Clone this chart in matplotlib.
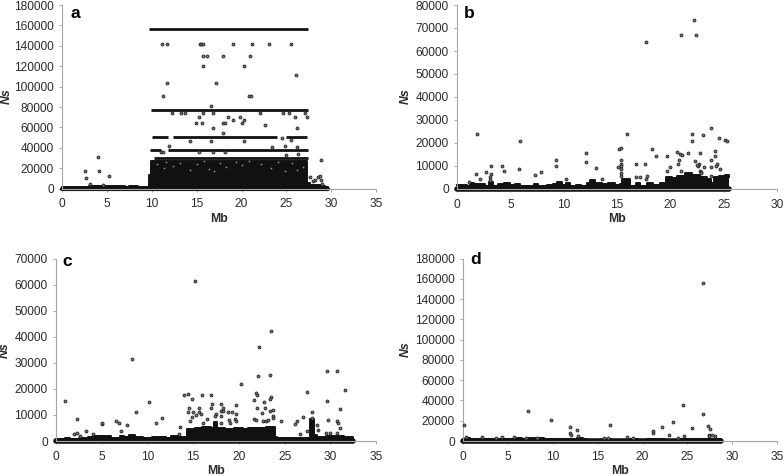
import matplotlib
matplotlib.use("Agg")
import matplotlib.pyplot as plt

plt.rcParams['font.family'] = ['Liberation Sans', 'DejaVu Sans']

# ---------- panel a ----------
a_env_x = [0, 1, 2, 2.5, 3, 3.5, 4, 4.5, 5, 5.5, 6, 7, 7.4, 8, 8.5, 9.7, 9.9, 27.3, 27.6, 28, 28.5, 29, 29.3, 29.6]
a_env_y = [1300, 1200, 1500, 1800, 2600, 2200, 2600, 3000, 2400, 3000, 2200, 2000, 3000, 2900, 2000, 13000, 27500, 6000, 4000, 4000, 3500, 3000, 2000, 800]
a_band_y = [156500, 77500, 51000, 51000, 51000, 38000, 38000, 30000]
a_band_start = [9.7, 9.9, 10.0, 12.3, 25.0, 9.8, 11.8, 10.2]
a_band_end = [27.4, 27.4, 11.8, 24.0, 27.3, 11.0, 27.4, 27.4]
a_x = [2.5, 2.6, 4.0, 4.1, 5.2, 3.1, 4.5, 11.1, 11.7, 15.4, 15.5, 15.7, 19.0, 21.2, 23.1, 25.5,
       15.7, 16.2, 17.9, 20.9, 15.7, 20.3, 26.1, 11.7, 17.2, 11.2, 20.8, 21.0, 16.6,
       12.2, 13.2, 13.7, 15.7, 16.8, 22.1, 24.6, 25.3, 27.1, 15.2, 18.5, 19.8, 26.0, 27.3, 19.0, 20.3,
       14.9, 15.6, 17.9, 18.1, 20.0, 22.6, 16.8, 26.2, 17.9, 14.2, 16.6, 20.3, 11.9, 24.8, 23.4,
       11.0, 11.2, 15.3, 16.8, 18.2, 28.9, 27.6, 28.0, 28.2, 28.5, 28.7, 28.9, 29.0, 26.2, 24.5, 25.0, 25.5, 26.3]
a_y = [17500, 10500, 31500, 17500, 12800, 4500, 4000, 141500, 141500, 141500, 141500, 141500, 141500, 141500, 141500, 141500,
       130000, 130000, 130000, 130000, 120000, 120000, 111000, 104000, 104000, 91000, 91000, 91000, 81000,
       74000, 74000, 74000, 74000, 74000, 74000, 74000, 74000, 74000, 70000, 70000, 70000, 70000, 70000, 67000, 67000,
       64500, 64500, 64500, 64500, 64500, 62000, 59500, 59500, 55000, 46500, 46500, 46500, 42000, 42000, 41000,
       36000, 36000, 36000, 36000, 36000, 28000, 11000, 8000, 9000, 11000, 12000, 8500, 5000, 41000, 50000, 33000, 48000, 34000]
a_hole_x = [10.6, 11.3, 11.6, 12.4, 13.1, 14.3, 15.0, 15.8, 16.4, 16.9, 17.6, 18.3, 19.4, 20.1, 20.8, 22.2, 23.3, 24.1, 24.8, 25.6, 26.2, 26.9]
a_hole_y = [24000, 20000, 26000, 22000, 25000, 18000, 24000, 27000, 19000, 17000, 25000, 21000, 26000, 23000, 27000, 24000, 20000, 26000, 17000, 25000, 18000, 21000]

# ---------- panel b ----------
b_env_x = [0, 0.9, 1.2, 1.6, 2.2, 2.6, 3.0, 3.4, 3.8, 4.4, 5.0, 5.4, 5.9, 6.8, 7.2, 7.6, 8.4, 9.0, 9.4, 9.8, 10.2, 10.6, 11.2, 11.6, 12.2, 12.5, 12.9, 13.6,
           14.2, 14.8, 15.3, 15.5, 16.2, 16.8, 17.2, 17.8, 18.4, 19.0, 19.6, 20.2, 20.6, 21.0, 21.4, 22.0, 22.8, 23.4, 23.8, 24.1, 24.6, 25.1, 25.5]
b_env_y = [1900, 1400, 2800, 2300, 2000, 1500, 3000, 1500, 2000, 2500, 1600, 2300, 1300, 1500, 2300, 1500, 1800, 2200, 3000, 1800, 2500, 1500, 1900, 1400, 2800, 4000, 2500, 2000,
           2500, 1600, 2000, 4500, 1400, 2500, 1500, 2500, 1800, 2400, 5200, 4800, 5800, 5600, 6800, 6000, 5300, 4300, 2800, 5000, 5800, 6300, 5000]
b_x = [17.7, 21.0, 22.2, 22.4, 1.9, 5.9, 15.9, 15.2, 15.4, 12.1, 12.1, 9.3, 9.3, 3.2, 4.2, 4.4, 1.8, 2.7, 3.2, 3.1, 5.8, 7.3, 7.9, 13.0,
       15.4, 15.4, 15.4, 15.4, 15.4, 15.4, 15.1, 16.8, 17.6, 16.8, 17.2, 17.8, 17.7, 18.3, 18.7, 19.7, 20.6, 20.9, 21.1, 21.7, 22.0, 22.0,
       23.1, 23.8, 24.6, 25.1, 25.3, 24.2, 24.2, 22.8, 22.3, 20.8, 20.7, 20.0, 19.7, 21.0, 22.7, 22.6, 23.2, 22.8, 22.9, 23.8, 23.8, 24.4, 24.3, 24.7,
       13.6, 10.2, 1.1, 2.2, 3.1, 22.5, 22.9, 23.8]
b_y = [64000, 67000, 73500, 67000, 24000, 20700, 24000, 17500, 18000, 15700, 11800, 12700, 10000, 10000, 10000, 7700, 6700, 7500, 6500, 5200, 8800, 6000, 7200, 9200,
       12500, 11000, 10000, 8500, 7000, 5500, 9500, 11000, 11000, 5000, 5200, 5800, 4200, 17500, 14300, 14300, 16000, 15000, 14700, 15700, 24000, 20700,
       23500, 26500, 22000, 21300, 20700, 16700, 14500, 15700, 12000, 12700, 10700, 9500, 7700, 7700, 11000, 10000, 9700, 8000, 7500, 12700, 9500, 11000, 10000, 8700,
       4200, 4300, 3200, 4200, 4000, 10500, 7000, 5500]

# ---------- panel c ----------
c_env_x = [0, 1.0, 1.5, 2.5, 3.5, 4.0, 5.0, 6.0, 7.0, 7.4, 8.0, 8.6, 9.5, 10.5, 11.5, 12.0, 12.6, 13.4, 14.3, 15.2, 16.0, 17.0, 17.3, 17.6, 18.5, 19.5, 20.5, 21.0, 22.0, 23.0, 24.0,
           24.2, 25.0, 26.0, 27.0, 27.8, 28.2, 28.6, 29.5, 30.5, 31.5, 32.5]
c_env_y = [900, 1100, 900, 1000, 1400, 1800, 2000, 1200, 2000, 1500, 2200, 1500, 1200, 1400, 1600, 1200, 1800, 1600, 4600, 5000, 5400, 5000, 7300, 5000, 4600, 5100, 4500, 5100, 4800, 5400, 1500,
           1200, 1100, 1300, 1000, 8500, 2200, 1700, 2100, 1800, 1500, 300]
c_x = [15.2, 23.5, 22.2, 8.3, 1.0, 2.3, 3.3, 5.0, 5.0, 6.6, 6.9, 7.8, 7.1, 8.8, 10.2, 10.9, 11.6, 13.6, 13.5, 14.0, 14.4, 14.9, 16.0, 16.9,
       14.4, 14.5, 15.0, 15.6, 15.6, 15.9, 16.9, 17.1, 18.1, 18.3, 18.1, 18.3, 18.8, 19.3, 19.7, 19.7, 20.2, 17.5, 17.4, 15.3, 14.9, 14.7, 16.5, 16.1,
       18.1, 18.1, 18.9, 19.6, 19.7, 19.0, 21.7, 21.9, 22.0, 22.1, 22.0, 22.7, 22.5, 22.9, 23.4, 23.5, 23.4, 23.7, 23.4, 23.7, 23.7, 21.7, 21.9, 22.6, 23.0, 23.2,
       24.6, 26.1, 26.4, 27.0, 27.4, 27.4, 28.0, 28.0, 29.6, 30.7, 29.6, 31.6, 31.1, 29.7, 30.7, 30.8, 31.1, 28.5, 28.7, 26.7, 29.5, 30.0, 30.7, 2.0, 2.3, 2.6, 4.0]
c_y = [61500, 42300, 36000, 31500, 15200, 8500, 4000, 6500, 6800, 7800, 6800, 6200, 4000, 11000, 14800, 6800, 8800, 5500, 2800, 17500, 18200, 16200, 17500, 17500,
       11300, 12700, 11300, 12700, 11000, 10500, 12700, 14200, 14200, 12700, 11500, 11500, 11300, 11000, 13800, 10500, 22000, 10500, 9500, 9800, 9200, 7800, 8300, 7000,
       9700, 7000, 8000, 8500, 7800, 7000, 15900, 18400, 17700, 24800, 12700, 15000, 10800, 12700, 25200, 17000, 16000, 12000, 11500, 9500, 8700, 8500, 8000, 7500, 7500, 8000,
       7800, 6500, 7800, 9300, 18800, 4000, 11000, 8800, 26700, 26700, 15500, 19500, 12200, 8200, 7800, 6800, 4800, 6000, 4200, 2500, 3000, 3000, 3200, 2700, 3200, 2000, 2600]

# ---------- panel d ----------
d_env_x = [0, 0.3, 0.8, 2.0, 3.5, 4.3, 5.0, 5.7, 6.5, 7.0, 8.2, 9.0, 10.0, 11.5, 12.7, 13.3, 13.8, 15.0, 15.6, 16.5, 18.3, 19.5, 20.5, 21.5, 22.5, 23.9, 25.0, 26.5, 27.5, 28.8]
d_env_y = [2000, 3000, 1500, 2000, 1500, 2300, 1500, 2500, 1800, 2500, 2500, 2000, 1500, 1800, 3000, 1500, 500, 500, 1500, 800, 2000, 1200, 1500, 2000, 1300, 2300, 1800, 1500, 1500, 500]
d_x = [26.7, 24.5, 7.2, 26.7, 9.8, 0.1, 16.4, 11.9, 12.7, 23.4, 22.2, 25.5, 27.3, 27.5, 21.2, 21.2, 11.9, 12.0, 22.9, 24.6, 27.4, 27.4, 27.7, 28.1, 12.8, 4.3, 0.3, 5.7, 7.0, 8.2, 18.3, 18.9, 15.7, 16.2, 2.1, 3.6, 23.9]
d_y = [156500, 36000, 30000, 26500, 20500, 15500, 15500, 14000, 10800, 18800, 13800, 12800, 14800, 11800, 9500, 8200, 7500, 5500, 5800, 5000, 6200, 5000, 6000, 5000, 4500, 4200, 3800, 3500, 3300, 3300, 3700, 3200, 2900, 2800, 3500, 3000, 3000]

a_xticks = [0, 5, 10, 15, 20, 25, 30, 35]
b_xticks = [0, 5, 10, 15, 20, 25, 30]
a_yticks = [0, 20000, 40000, 60000, 80000, 100000, 120000, 140000, 160000, 180000]
b_yticks = [0, 10000, 20000, 30000, 40000, 50000, 60000, 70000, 80000]
c_yticks = [0, 10000, 20000, 30000, 40000, 50000, 60000, 70000]

W, H = 784, 476
fig = plt.figure(figsize=(W / 100, H / 100), dpi=100, facecolor='white')
DARK = '#111111'
AX = '#a6a6a6'
TXT = '#2a2a2a'


def panel(box, letter, letter_xy, ns_xy, mb_xy, xticks, yticks, env_x, env_y, px, py, base_lw):
    left, right, top, bottom = box
    ax = fig.add_axes([left / W, 1 - bottom / H, (right - left) / W, (bottom - top) / H])
    ax.set_xlim(xticks[0], xticks[-1])
    ax.set_ylim(yticks[0], yticks[-1])
    ax.fill_between(env_x, 0, env_y, step='post', color=DARK, lw=0, clip_on=False, zorder=2)
    ax.plot(env_x, env_y, drawstyle='steps-post', color=DARK, lw=1.4, solid_joinstyle='round', clip_on=False, zorder=2)
    ax.plot([env_x[0], env_x[-1]], [0, 0], color=DARK, lw=base_lw, solid_capstyle='round', clip_on=False, zorder=2)
    ax.scatter(px, py, s=4.5, facecolor='#777777', edgecolor='#222222', lw=0.6, clip_on=False, zorder=3)
    ax.set_xticks(xticks)
    ax.set_yticks(yticks)
    for s in ('top', 'right'):
        ax.spines[s].set_visible(False)
    for s in ('left', 'bottom'):
        ax.spines[s].set_color(AX)
        ax.spines[s].set_linewidth(0.8)
    ax.tick_params(axis='both', length=2.5, width=0.7, color=AX, labelsize=8.6, labelcolor=TXT)
    ax.tick_params(axis='y', pad=3.5)
    ax.tick_params(axis='x', pad=4.5)
    fig.text(letter_xy[0] / W, 1 - letter_xy[1] / H, letter, fontsize=12.5, fontweight='bold', color='black', ha='center', va='center')
    fig.text(ns_xy[0] / W, 1 - ns_xy[1] / H, 'Ns', fontsize=8.8, fontweight='bold', fontstyle='italic', color=TXT, rotation=90, ha='center', va='center')
    fig.text(mb_xy[0] / W, 1 - mb_xy[1] / H, 'Mb', fontsize=8.8, fontweight='bold', color=TXT, ha='center', va='center')
    return ax


ax_a = panel((62.3, 376, 5, 188.7), 'a', (75, 13), (7, 96), (219, 219), a_xticks, a_yticks, a_env_x, a_env_y, a_x, a_y, 3)
ax_a.hlines(a_band_y, a_band_start, a_band_end, color=DARK, lw=2.0, zorder=2)
ax_a.scatter(a_hole_x, a_hole_y, s=1.5, color='#999999', lw=0, zorder=4)
panel((457, 777, 5, 189), 'b', (469, 14), (406, 96), (617, 219), b_xticks, b_yticks, b_env_x, b_env_y, b_x, b_y, 4)
panel((56, 376, 258.7, 441), 'c', (67, 261), (5, 350), (216, 471), a_xticks, c_yticks, c_env_x, c_env_y, c_x, c_y, 4)
panel((463.3, 777, 258.7, 441), 'd', (476, 260), (406, 349), (620, 471), a_xticks, a_yticks, d_env_x, d_env_y, d_x, d_y, 4)

fig.savefig('out.png', dpi=100)
